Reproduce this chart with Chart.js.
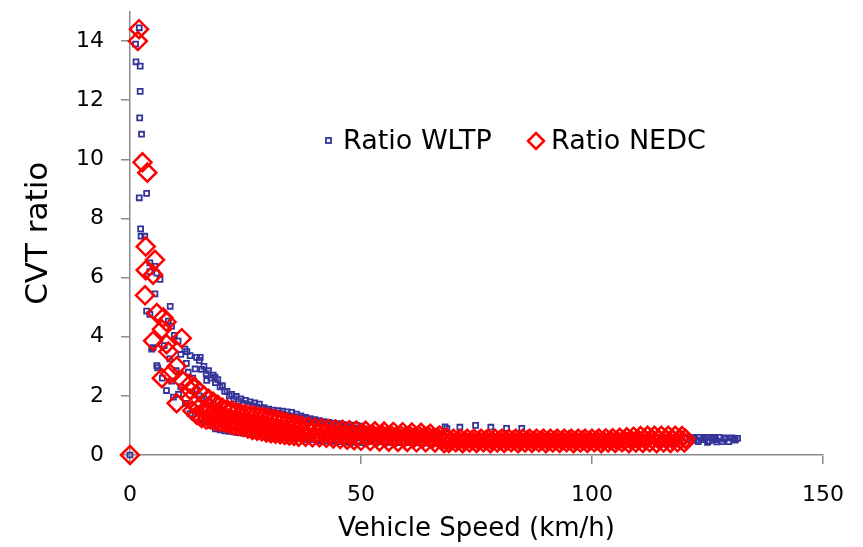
<!DOCTYPE html>
<html>
<head>
<meta charset="utf-8">
<script src="https://cdn.jsdelivr.net/npm/chart.js@4/dist/chart.umd.min.js"></script>
<style>
  html, body { margin: 0; padding: 0; background: #fff; }
  #wrap { width: 863px; height: 547px; }
</style>
</head>
<body>
<div id="wrap"><canvas id="cvtChart"></canvas></div>
<script>
// CVT ratio vs vehicle speed as [speed km/h, ratio]

const xTickValues = [0, 50, 100, 150];
const yTickValues = [0, 2, 4, 6, 8, 10, 12, 14];

const wltpPoints = [
    [0, 0], [1.2, 13.9], [2.0, 14.45], [1.3, 13.3], [2.2, 13.15], [2.2, 12.3], [2.1, 11.4], [2.5, 10.85],
    [2.0, 8.7], [3.6, 8.85], [2.3, 7.65], [2.4, 7.4], [3.2, 7.4], [4.3, 6.5], [5.4, 6.38], [6.5, 5.94],
    [4.3, 6.2], [5.8, 6.15], [5.4, 5.45], [8.7, 5.03], [3.6, 4.87], [4.3, 4.76], [8.3, 4.53], [9.0, 4.36],
    [5.0, 3.63], [4.7, 3.58], [11.9, 3.58], [13.0, 3.36], [14.4, 3.3], [5.8, 3.02], [6.0, 2.95], [14.1, 2.91],
    [7.9, 2.18], [9.4, 1.96], [16.6, 2.52], [18.4, 2.63], [7.4, 3.7], [9.6, 4.05], [10.4, 3.85], [11.0, 3.4],
    [12.2, 3.1], [12.6, 2.8], [13.6, 2.6], [10.0, 2.85], [8.6, 3.25], [9.0, 2.5], [11.0, 2.3], [12.3, 3.5],
    [15.2, 3.3], [7.0, 2.6], [10.5, 2.05], [12.0, 1.75], [13.0, 1.4], [14.5, 2.2], [15.5, 1.9],
    // 15 - 50 km/h band
    [15, 3.2], [15.5, 2.9], [15, 2.0], [15.5, 1.2],
    [16, 3.0], [16.5, 2.75], [16, 1.9], [16.5, 1.1],
    [17, 2.85], [17.5, 2.6], [17, 1.8], [17.5, 1.0],
    [18, 2.7], [18.5, 2.45], [18, 1.7], [18.5, 0.88],
    [19, 2.55], [19.5, 2.3], [19, 1.6], [19.5, 0.85],
    [20, 2.35], [20.5, 2.15], [20, 1.5], [20.5, 0.82],
    [21, 2.15], [21.5, 2.0], [21, 1.45], [21.5, 0.8],
    [22, 2.05], [22.5, 1.9], [22, 1.4], [22.5, 0.78],
    [23, 1.98], [23.5, 1.82], [23, 1.35], [23.5, 0.76],
    [24, 1.9], [24.5, 1.75], [24, 1.3], [24.5, 0.74],
    [25, 1.85], [25.5, 1.7], [25, 1.25], [25.5, 0.72],
    [26, 1.8], [26.5, 1.66], [26, 1.2], [26.5, 0.7],
    [27, 1.76], [27.5, 1.62], [27, 1.15], [27.5, 0.68],
    [28, 1.72], [28.5, 1.58], [28, 1.1], [28.5, 0.66],
    [29, 1.6], [29.5, 1.5], [29, 1.05], [29.5, 0.64],
    [30, 1.55], [30.5, 1.45], [30, 1.0], [30.5, 0.62],
    [31, 1.52], [31.5, 1.42], [31, 0.98], [31.5, 0.6],
    [32, 1.5], [32.5, 1.4], [32, 0.95], [32.5, 0.59],
    [33, 1.48], [33.5, 1.36], [33, 0.92], [33.5, 0.58],
    [34, 1.46], [34.5, 1.32], [34, 0.9], [34.5, 0.57],
    [35, 1.44], [35.5, 1.3], [35, 0.88], [35.5, 0.56],
    [36, 1.38], [36.5, 1.26], [36, 0.86], [36.5, 0.55],
    [37, 1.32], [37.5, 1.22], [37, 0.84], [37.5, 0.54],
    [38, 1.27], [38.5, 1.18], [38, 0.82], [38.5, 0.53],
    [39, 1.23], [39.5, 1.14], [39, 0.8], [39.5, 0.52],
    [40, 1.2], [40.5, 1.1], [40, 0.78], [40.5, 0.5],
    [41, 1.16], [41.5, 1.07], [41, 0.76], [41.5, 0.49],
    [42, 1.13], [42.5, 1.04], [42, 0.74], [42.5, 0.48],
    [43, 1.1], [43.5, 1.02], [43, 0.72], [43.5, 0.47],
    [44, 1.08], [44.5, 1.0], [44, 0.7], [44.5, 0.46],
    [45, 1.06], [45.5, 0.98], [45, 0.68], [45.5, 0.45],
    [46, 1.04], [46.5, 0.96], [46, 0.66], [46.5, 0.44],
    [47, 1.02], [47.5, 0.94], [47, 0.64], [47.5, 0.43],
    [48, 1.01], [48.5, 0.92], [48, 0.62], [48.5, 0.43],
    [49, 1.0], [49.5, 0.9], [49, 0.6], [49.5, 0.42],
    [50, 0.98], [50.5, 0.88], [50, 0.58], [50.5, 0.42],
    // 50 - 120 km/h, mostly under the NEDC marks
    [52, 0.85], [53, 0.62], [52, 0.45], [54, 0.83], [55, 0.6], [54, 0.44],
    [56, 0.8], [57, 0.6], [56, 0.43], [58, 0.78], [59, 0.58], [58, 0.42],
    [60, 0.76], [61, 0.58], [60, 0.42], [62, 0.74], [63, 0.56], [62, 0.41],
    [64, 0.72], [65, 0.55], [64, 0.4], [66, 0.7], [67, 0.55], [66, 0.4],
    [68.2, 0.95], [68.6, 0.89], [71.4, 0.94], [74.8, 1.0], [78.1, 0.94], [81.5, 0.9], [84.8, 0.9],
    [68, 0.65], [69, 0.5], [68, 0.4], [70, 0.62], [71, 0.5], [70, 0.4],
    [72, 0.6], [73, 0.5], [72, 0.4], [74, 0.6], [75, 0.5], [74, 0.4],
    [76, 0.6], [77, 0.5], [76, 0.4], [78, 0.6], [79, 0.5], [78, 0.4],
    [80, 0.6], [81, 0.5], [80, 0.4], [82, 0.6], [83, 0.5], [82, 0.4],
    [84, 0.6], [85, 0.5], [84, 0.4], [86, 0.6], [87, 0.5], [86, 0.4],
    [88, 0.6], [89, 0.5], [88, 0.4], [90, 0.6], [91, 0.5], [90, 0.4],
    [92, 0.6], [93, 0.5], [92, 0.4], [94, 0.6], [95, 0.5], [94, 0.4],
    [96, 0.6], [97, 0.5], [96, 0.4], [98, 0.6], [99, 0.5], [98, 0.4],
    [100, 0.6], [101, 0.5], [100, 0.4], [102, 0.6], [103, 0.5], [102, 0.4],
    [104, 0.6], [105, 0.5], [104, 0.4], [106, 0.6], [107, 0.5], [106, 0.4],
    [108, 0.6], [109, 0.5], [108, 0.4], [110, 0.6], [111, 0.5], [110, 0.4],
    [112, 0.6], [113, 0.5], [112, 0.4], [114, 0.6], [115, 0.5], [114, 0.4],
    [116, 0.6], [117, 0.5], [116, 0.4], [118, 0.6], [119, 0.5], [118, 0.4],
    // above 120 km/h, WLTP only
    [120.5, 0.6], [121.2, 0.52], [121.9, 0.6], [122.6, 0.5], [123.3, 0.6], [124.0, 0.52],
    [124.7, 0.6], [125.4, 0.48], [126.1, 0.6], [126.8, 0.52], [127.5, 0.6], [128.2, 0.45],
    [128.9, 0.58], [129.6, 0.45], [130.3, 0.58], [131.0, 0.5], [131.5, 0.56], [125.0, 0.43],
    [127.0, 0.44], [123.0, 0.45], [122.0, 0.56], [124.3, 0.56], [126.5, 0.56], [128.6, 0.54],
    [130.7, 0.54]
];

const nedcPoints = [
    [0, 0], [1.7, 14.0], [1.95, 14.4], [2.7, 9.9], [3.75, 9.55], [3.4, 7.05], [5.4, 6.6], [3.4, 6.25],
    [5.0, 6.1], [3.25, 5.4], [5.8, 4.8], [7.2, 4.65], [7.9, 4.5], [6.9, 4.25], [11.2, 3.95], [5.0, 3.86],
    [7.9, 3.75], [8.3, 3.5], [10.1, 3.0], [6.9, 2.6], [8.7, 2.75], [11.5, 2.5], [10.1, 1.75], [13.0, 2.2],
    // 13 - 68 km/h band
    [13, 2.4], [13, 1.9], [13.5, 1.5], [14, 2.3], [14, 1.7], [14.5, 1.35],
    [15, 2.15], [15, 1.6], [15.5, 1.25], [16, 2.0], [16, 1.5], [16.5, 1.2],
    [17, 1.9], [17, 1.45], [17.5, 1.2], [18, 1.8], [18, 1.4], [18.5, 1.15],
    [19, 1.7], [19, 1.35], [19.5, 1.12], [20, 1.6], [20, 1.3], [20.5, 1.1],
    [21, 1.55], [21, 1.25], [21.5, 1.05], [22, 1.5], [22, 1.2], [22.5, 1.0],
    [23, 1.45], [23, 1.2], [23.5, 0.98], [24, 1.4], [24, 1.15], [24.5, 0.95],
    [25, 1.38], [25, 1.1], [25.5, 0.9], [26, 1.35], [26, 1.05], [26.5, 0.85],
    [27, 1.33], [27, 1.05], [27.5, 0.82], [28, 1.3], [28, 1.0], [28.5, 0.8],
    [29, 1.28], [29, 1.0], [29.5, 0.76], [30, 1.26], [30, 0.95], [30.5, 0.74],
    [31, 1.22], [31, 0.92], [31.5, 0.72], [32, 1.18], [32, 0.9], [32.5, 0.7],
    [33, 1.14], [33, 0.88], [33.5, 0.68], [34, 1.1], [34, 0.85], [34.5, 0.66],
    [35, 1.06], [35, 0.84], [35.5, 0.64], [36, 1.04], [36, 0.82], [36.5, 0.62],
    [37, 1.0], [37.5, 0.8], [38, 0.62], [38.5, 0.96], [39, 0.78], [39.5, 0.6],
    [40, 0.93], [40.5, 0.76], [41, 0.6], [41.5, 0.9], [42, 0.74], [42.5, 0.58],
    [43, 0.88], [43.5, 0.72], [44, 0.56], [44.5, 0.86], [45, 0.7], [45.5, 0.54],
    [46, 0.85], [46.5, 0.7], [47, 0.52], [47.5, 0.84], [48, 0.68], [48.5, 0.5],
    [49, 0.83], [49.5, 0.66], [50, 0.48], [51, 0.82], [51.5, 0.64], [52, 0.47],
    [53, 0.8], [53.5, 0.62], [54, 0.46], [55, 0.79], [55.5, 0.62], [56, 0.45],
    [57, 0.78], [57.5, 0.6], [58, 0.44], [59, 0.77], [59.5, 0.6], [60, 0.44],
    [61, 0.76], [61.5, 0.58], [62, 0.43], [63, 0.75], [63.5, 0.58], [64, 0.43],
    [65, 0.72], [65.5, 0.56], [66, 0.42], [67, 0.66], [67.5, 0.5], [68, 0.4],
    [50.5, 0.72], [52.5, 0.7], [54.5, 0.7], [56.5, 0.68], [58.5, 0.68], [60.5, 0.66],
    [62.5, 0.66], [64.5, 0.64], [66.5, 0.6], [68.5, 0.58],
    // 69 - 120 km/h
    [69, 0.41], [69.5, 0.48], [70, 0.55], [70.5, 0.43], [71, 0.5], [71.5, 0.55],
    [72, 0.4], [72.5, 0.47], [73, 0.55], [73.5, 0.42], [74, 0.5], [74.5, 0.55],
    [75, 0.41], [75.5, 0.48], [76, 0.55], [76.5, 0.43], [77, 0.5], [77.5, 0.55],
    [78, 0.4], [78.5, 0.47], [79, 0.55], [79.5, 0.42], [80, 0.5], [80.5, 0.55],
    [81, 0.41], [81.5, 0.48], [82, 0.55], [82.5, 0.43], [83, 0.5], [83.5, 0.55],
    [84, 0.4], [84.5, 0.47], [85, 0.55], [85.5, 0.42], [86, 0.5], [86.5, 0.55],
    [87, 0.41], [87.5, 0.48], [88, 0.55], [88.5, 0.43], [89, 0.5], [89.5, 0.55],
    [90, 0.4], [90.5, 0.47], [91, 0.55], [91.5, 0.42], [92, 0.5], [92.5, 0.55],
    [93, 0.41], [93.5, 0.48], [94, 0.55], [94.5, 0.43], [95, 0.5], [95.5, 0.55],
    [96, 0.4], [96.5, 0.47], [97, 0.55], [97.5, 0.42], [98, 0.5], [98.5, 0.55],
    [99, 0.41], [99.5, 0.48], [100, 0.55], [100.5, 0.43], [101, 0.5], [101.5, 0.56],
    [102, 0.4], [102.5, 0.47], [103, 0.56], [103.5, 0.42], [104, 0.5], [104.5, 0.57],
    [105, 0.41], [105.5, 0.48], [106, 0.58], [106.5, 0.43], [107, 0.5], [107.5, 0.6],
    [108, 0.4], [108.5, 0.5], [109, 0.62], [109.5, 0.42], [110, 0.52], [110.5, 0.64],
    [111, 0.41], [111.5, 0.52], [112, 0.65], [112.5, 0.43], [113, 0.54], [113.5, 0.65],
    [114, 0.4], [114.5, 0.52], [115, 0.65], [115.5, 0.42], [116, 0.54], [116.5, 0.65],
    [117, 0.41], [117.5, 0.52], [118, 0.65], [118.5, 0.43], [119, 0.54], [119.5, 0.64],
    [120, 0.42], [120.2, 0.55]
];

const axisGrey = "#8a8a8a";
const fontFamily = "'DejaVu Sans', Verdana, sans-serif";

// legend drawn inside the plot area
const insideLegend = {
    id: "insideLegend",
    afterDraw(chart) {
        const ctx = chart.ctx;
        ctx.save();
        ctx.font = "27px " + fontFamily;
        ctx.fillStyle = "#000";
        ctx.textBaseline = "middle";
        ctx.textAlign = "left";

        // WLTP entry
        ctx.strokeStyle = "#333399";
        ctx.lineWidth = 1.8;
        ctx.strokeRect(326, 138, 5, 5);
        ctx.fillText("Ratio WLTP", 343, 142);

        // NEDC entry
        ctx.strokeStyle = "#ff0000";
        ctx.lineWidth = 2.5;
        ctx.beginPath();
        ctx.moveTo(536, 133);
        ctx.lineTo(544, 141);
        ctx.lineTo(536, 149);
        ctx.lineTo(528, 141);
        ctx.closePath();
        ctx.stroke();
        ctx.fillText("Ratio NEDC", 551, 142);
        ctx.restore();
    }
};

const ctx = document.getElementById("cvtChart").getContext("2d");

new Chart(ctx, {
    type: "scatter",
    data: {
        datasets: [
            {
                label: "Ratio WLTP",
                data: wltpPoints.map(p => ({ x: p[0], y: p[1] })),
                pointStyle: "rect",
                pointRadius: 3.5,
                pointHoverRadius: 3.5,
                borderColor: "#333399",
                backgroundColor: "rgba(0,0,0,0)",
                borderWidth: 1.8,
                clip: false,
                order: 1
            },
            {
                label: "Ratio NEDC",
                data: nedcPoints.map(p => ({ x: p[0], y: p[1] })),
                pointStyle: "rectRot",
                pointRadius: 9,
                pointHoverRadius: 9,
                borderColor: "#ff0000",
                backgroundColor: "rgba(0,0,0,0)",
                borderWidth: 2.5,
                clip: false,
                order: 0
            }
        ]
    },
    options: {
        responsive: true,
        maintainAspectRatio: false,
        animation: false,
        layout: {
            padding: { top: 8, right: 40, left: 0, bottom: 0 }
        },
        plugins: {
            legend: { display: false },
            tooltip: { enabled: false }
        },
        scales: {
            x: {
                type: "linear",
                min: 0,
                max: 150,
                afterBuildTicks: scale => {
                    scale.ticks = xTickValues.map(v => ({ value: v }));
                },
                afterFit: scale => {
                    scale.height = 92;
                    scale.paddingLeft = 0;
                    scale.paddingRight = 0;
                },
                grid: {
                    drawOnChartArea: false,
                    drawTicks: true,
                    tickLength: 9,
                    color: axisGrey,
                    lineWidth: 1.5
                },
                border: { display: true, color: axisGrey, width: 1.5 },
                ticks: {
                    color: "#000",
                    padding: 18,
                    maxRotation: 0,
                    font: { family: fontFamily, size: 22 }
                },
                title: {
                    display: true,
                    text: "Vehicle Speed (km/h)",
                    color: "#000",
                    font: { family: fontFamily, size: 26 },
                    padding: { top: 0, bottom: 2 }
                }
            },
            y: {
                type: "linear",
                min: 0,
                max: 15,
                afterBuildTicks: scale => {
                    scale.ticks = yTickValues.map(v => ({ value: v }));
                },
                afterFit: scale => {
                    scale.width = 130;
                    scale.paddingTop = 0;
                    scale.paddingBottom = 0;
                },
                grid: {
                    drawOnChartArea: false,
                    drawTicks: true,
                    tickLength: 9,
                    color: axisGrey,
                    lineWidth: 1.5
                },
                border: { display: true, color: axisGrey, width: 1.5 },
                ticks: {
                    color: "#000",
                    padding: 17,
                    font: { family: fontFamily, size: 22 }
                },
                title: {
                    display: true,
                    text: "CVT ratio",
                    color: "#000",
                    font: { family: fontFamily, size: 31 },
                    padding: { top: 20, bottom: 0 }
                }
            }
        }
    },
    plugins: [insideLegend]
});
</script>
</body>
</html>
